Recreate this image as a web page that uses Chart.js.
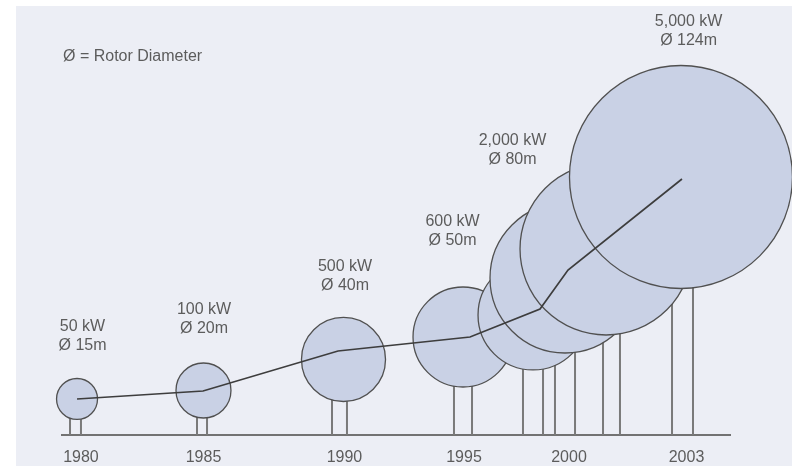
<!DOCTYPE html>
<html>
<head>
<meta charset="utf-8">
<script src="https://cdn.jsdelivr.net/npm/chart.js@4.4.1/dist/chart.umd.min.js"></script>
<style>
  html, body { margin: 0; padding: 0; background: #fff; }
  #wrap { position: relative; width: 792px; height: 466px; }
  #paper { position: absolute; left: 16px; top: 6px; right: 0; bottom: 0; background: #eceef5; }
  canvas { position: absolute; left: 0; top: 0; }
</style>
</head>
<body>
<div id="wrap"><div id="paper"></div><canvas id="chart" width="792" height="466"></canvas></div>
<script>
// --- 1. Data (x = position along the time axis, y = height above ground) ---
const hubX   = [2.25, 21.18, 42.14, 60.03, 70.51, 75.30, 81.44, 92.66];
const hubY   = [8.28, 10.23, 17.36, 22.53, 27.59, 36.09, 42.76, 59.31];
const rotorR = [4.71, 6.32, 9.66, 11.49, 12.64, 17.24, 19.77, 25.63];   // rotor radius, y units
const mastL  = [1.20, 20.21, 40.42, 58.68, 69.01, 73.80, 80.99, 91.32];
const mastR  = [2.84, 21.71, 42.66, 61.38, 72.01, 76.80, 83.53, 94.46];

const trendX = [2.25, 21.11, 41.32, 61.08, 71.56, 75.75, 92.81];
const trendY = [8.28, 10.11, 19.31, 22.53, 28.97, 37.93, 58.85];

const yearTicks  = [2.84, 21.18, 42.28, 60.18, 75.90, 93.49];
const yearLabels = ['1980', '1985', '1990', '1995', '2000', '2003'];

const powerLabels = ['50 kW', '100 kW', '500 kW', '600 kW', '2,000 kW', '5,000 kW'];
const diamLabels  = ['Ø 15m', 'Ø 20m', 'Ø 40m', 'Ø 50m', 'Ø 80m', 'Ø 124m'];
const labelX = [3.07, 21.26, 42.37, 58.46, 67.44, 93.8];
const labelY = [24.83, 28.74, 38.62, 48.97, 67.59, 95.06];

const keyText = 'Ø = Rotor Diameter';
const keyX = 0.15, keyY = 86.9;

// --- 2. Styles ---
const FAMILY = '"Liberation Sans", Arial, sans-serif';
const FONT = '16px ' + FAMILY;
const TEXT_COLOR = '#5c5c5c';
const LINE_GAP = 19;

// masts: two legs per turbine, broken with null gaps
const mastPoints = [];
hubX.forEach((_, i) => {
    mastPoints.push({ x: mastL[i], y: 0 }, { x: mastL[i], y: hubY[i] }, { x: mastL[i], y: null });
    mastPoints.push({ x: mastR[i], y: 0 }, { x: mastR[i], y: hubY[i] }, { x: mastR[i], y: null });
});

const rotorPoints = hubX.map((x, i) => ({ x: x, y: hubY[i] }));
const trendPoints = trendX.map((x, i) => ({ x: x, y: trendY[i] }));

// text labels drawn through the scales
const labelPlugin = {
    id: 'turbineLabels',
    afterDatasetsDraw(chart) {
        const { ctx, scales: { x, y } } = chart;
        ctx.save();
        ctx.font = FONT;
        ctx.fillStyle = TEXT_COLOR;
        ctx.textBaseline = 'middle';
        ctx.textAlign = 'left';
        ctx.fillText(keyText, x.getPixelForValue(keyX), y.getPixelForValue(keyY));
        ctx.textAlign = 'center';
        powerLabels.forEach((txt, i) => {
            const px = x.getPixelForValue(labelX[i]);
            const py = y.getPixelForValue(labelY[i]);
            ctx.fillText(txt, px, py);
            ctx.fillText(diamLabels[i], px, py + LINE_GAP);
        });
        ctx.restore();
    }
};

const rotorRadius = (c) => {
    const s = c.chart.scales.y;
    return Math.abs(s.getPixelForValue(0) - s.getPixelForValue(rotorR[c.dataIndex]));
};

new Chart(document.getElementById('chart').getContext('2d'), {
    type: 'scatter',
    data: {
        datasets: [
            {
                type: 'line',
                data: trendPoints,
                borderColor: '#3d3d3d',
                borderWidth: 1.7,
                pointRadius: 0,
                tension: 0,
                clip: false,
                order: 0
            },
            {
                type: 'scatter',
                data: rotorPoints,
                pointRadius: rotorRadius,
                pointBackgroundColor: '#c9d1e5',
                pointBorderColor: '#505050',
                pointBorderWidth: 1.3,
                clip: false,
                order: 1
            },
            {
                type: 'line',
                data: mastPoints,
                borderColor: '#7a7a7a',
                borderWidth: 2,
                pointRadius: 0,
                spanGaps: false,
                clip: false,
                order: 2
            }
        ]
    },
    options: {
        responsive: false,
        animation: false,
        events: [],
        devicePixelRatio: 1,
        layout: { padding: { left: 62, right: 62, top: 0, bottom: 0 } },
        plugins: { legend: { display: false }, tooltip: { enabled: false } },
        scales: {
            x: {
                type: 'linear',
                min: 0,
                max: 100,
                grid: { display: false, drawTicks: false },
                border: { display: true, color: '#727272', width: 2 },
                afterBuildTicks: (s) => { s.ticks = yearTicks.map(v => ({ value: v })); },
                afterFit: (s) => { s.height = 31; },
                ticks: {
                    autoSkip: false,
                    maxRotation: 0,
                    padding: 13,
                    color: TEXT_COLOR,
                    font: { family: FAMILY, size: 16 },
                    callback: (val, i) => yearLabels[i]
                }
            },
            y: { type: 'linear', min: 0, max: 100, display: false }
        }
    },
    plugins: [labelPlugin]
});
</script>
</body>
</html>
